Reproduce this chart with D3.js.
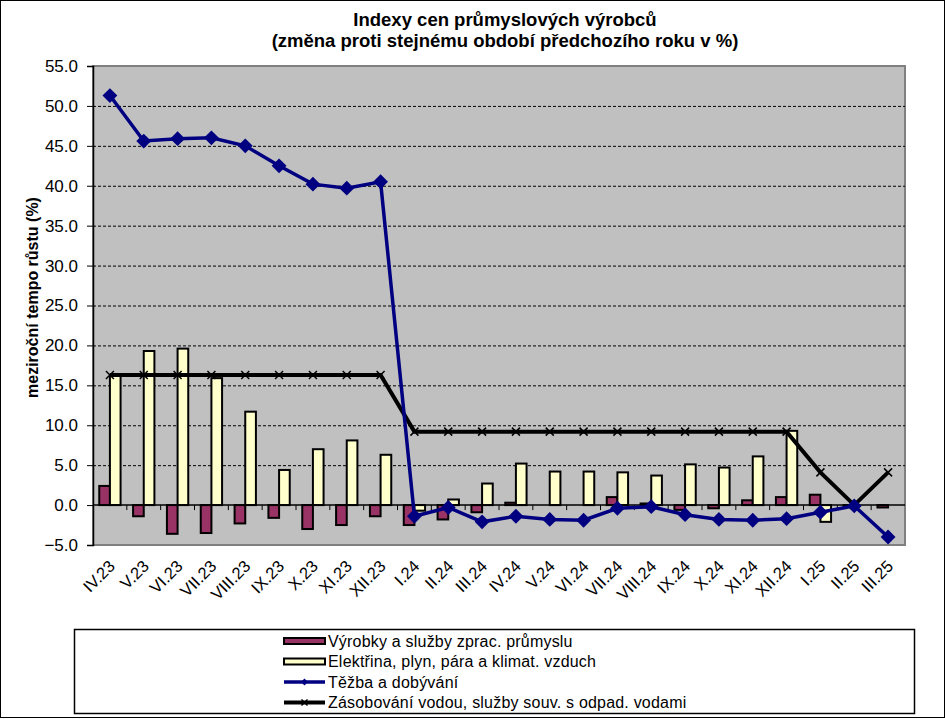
<!DOCTYPE html>
<html>
<head>
<meta charset="utf-8">
<script src="https://cdn.jsdelivr.net/npm/d3@7"></script>
<style>
    body { margin: 0; background: #fff; }
    svg { display: block; font-family: "Liberation Sans", Arial, sans-serif; }
    .grid line { stroke: #000; stroke-width: 1; stroke-dasharray: 3,2; }
</style>
</head>
<body>
<script>
// Data
const months = ['IV.23', 'V.23', 'VI.23', 'VII.23', 'VIII.23', 'IX.23', 'X.23', 'XI.23', 'XII.23',
    'I.24', 'II.24', 'III.24', 'IV.24', 'V.24', 'VI.24', 'VII.24', 'VIII.24', 'IX.24', 'X.24', 'XI.24', 'XII.24',
    'I.25', 'II.25', 'III.25'];
const vyrobky = [2.4, -1.4, -3.6, -3.5, -2.3, -1.6, -3.0, -2.5, -1.4,
    -2.5, -1.8, -0.9, 0.3, 0.0, 0.0, 1.0, 0.2, -0.6, -0.4, 0.6, 1.0,
    1.3, -0.1, -0.3];
const elektrina = [16.2, 19.3, 19.6, 15.9, 11.7, 4.4, 7.0, 8.1, 6.3,
    -0.7, 0.7, 2.7, 5.2, 4.2, 4.2, 4.1, 3.7, 5.1, 4.7, 6.1, 9.3,
    -2.1, 0.0, 0.0];
const tezba = [51.3, 45.6, 45.9, 46.0, 45.0, 42.5, 40.2, 39.7, 40.5,
    -1.4, -0.3, -2.1, -1.4, -1.8, -1.9, -0.4, -0.2, -1.2, -1.8, -1.9, -1.7,
    -0.9, -0.1, -4.0];
const zasobovani = [16.3, 16.3, 16.3, 16.3, 16.3, 16.3, 16.3, 16.3, 16.3,
    9.2, 9.2, 9.2, 9.2, 9.2, 9.2, 9.2, 9.2, 9.2, 9.2, 9.2, 9.2,
    4.1, 0.0, 4.1];
const yTicks = [-5, 0, 5, 10, 15, 20, 25, 30, 35, 40, 45, 50, 55];
const seriesNames = ['Výrobky a služby zprac. průmyslu', 'Elektřina, plyn, pára a klimat. vzduch',
    'Těžba a dobývání', 'Zásobování vodou, služby souv. s odpad. vodami'];

const W = 945, H = 719;
const plot = { left: 93, top: 66, right: 905, bottom: 545 };

const svg = d3.select("body").append("svg")
    .attr("width", W)
    .attr("height", H);

// outer border
svg.append("rect")
    .attr("x", 0.5).attr("y", 0.5)
    .attr("width", W - 1).attr("height", H - 2)
    .attr("fill", "#fff").attr("stroke", "#000");

// title
const title = svg.append("text")
    .attr("text-anchor", "middle")
    .style("font-size", "18.5px")
    .style("font-weight", "bold");
title.append("tspan").attr("x", 505).attr("y", 26).text("Indexy cen průmyslových výrobců");
title.append("tspan").attr("x", 505).attr("y", 47).text("(změna proti stejnému období předchozího roku v %)");

// scales
const x = d3.scaleBand()
    .domain(months)
    .range([plot.left, plot.right]);
const xInner = d3.scaleBand()
    .domain([0, 1])
    .range([x.bandwidth() * 0.185, x.bandwidth() * 0.815]);
const y = d3.scaleLinear()
    .domain([-5, 55])
    .range([plot.bottom, plot.top]);

// plot area
svg.append("rect")
    .attr("x", plot.left).attr("y", plot.top)
    .attr("width", plot.right - plot.left)
    .attr("height", plot.bottom - plot.top)
    .attr("fill", "#c0c0c0")
    .attr("stroke", "#808080")
    .attr("stroke-width", 2);

// gridlines
svg.append("g")
    .attr("class", "grid")
    .selectAll("line")
    .data(yTicks.filter(d => d !== 0 && d !== -5 && d !== 55))
    .enter().append("line")
    .attr("x1", plot.left).attr("x2", plot.right)
    .attr("y1", d => y(d) + 0.5).attr("y2", d => y(d) + 0.5);

// bars
const groups = svg.selectAll(".month")
    .data(months.map((m, i) => ({ month: m, values: [vyrobky[i], elektrina[i]] })))
    .enter().append("g")
    .attr("class", "month")
    .attr("transform", d => "translate(" + x(d.month) + ",0)");

const barColors = ['#993366', '#ffffcc'];
groups.selectAll("rect")
    .data(d => d.values.map((v, k) => ({ v: v, k: k })))
    .enter().append("rect")
    .attr("x", d => xInner(d.k))
    .attr("width", xInner.bandwidth())
    .attr("y", d => y(Math.max(0, d.v)))
    .attr("height", d => Math.abs(y(d.v) - y(0)))
    .attr("fill", d => barColors[d.k])
    .attr("stroke", "#000")
    .attr("stroke-width", 2);

// x axis at zero
const xg = svg.append("g")
    .attr("transform", "translate(0," + y(0) + ")");
xg.append("line")
    .attr("x1", plot.left).attr("x2", plot.right)
    .attr("stroke", "#000").attr("stroke-width", 1.5);
xg.selectAll(".xtick")
    .data(months.slice(1))
    .enter().append("line")
    .attr("x1", d => x(d)).attr("x2", d => x(d))
    .attr("y1", 0).attr("y2", 5)
    .attr("stroke", "#000");

// x labels
svg.append("g")
    .selectAll("text")
    .data(months)
    .enter().append("text")
    .attr("text-anchor", "end")
    .attr("transform", d => "translate(" + (x(d) + x.bandwidth() / 2 - 2) + "," + (plot.bottom + 14) + ") rotate(-45)")
    .attr("dy", "0.7em")
    .style("font-size", "16.5px")
    .text(d => d);

// y axis
const yAxis = d3.axisLeft(y)
    .tickValues(yTicks)
    .tickSize(6)
    .tickFormat(d3.format(".1f"));
svg.append("g")
    .attr("transform", "translate(" + plot.left + ",0)")
    .call(yAxis)
    .call(g => g.attr("font-family", null).attr("font-size", null))
    .call(g => g.select(".domain").attr("stroke", "#000").attr("stroke-width", 1.5))
    .call(g => g.selectAll(".tick text").attr("x", -15).style("font-size", "17px"));

svg.append("text")
    .attr("transform", "translate(38," + ((plot.top + plot.bottom) / 2 - 8) + ") rotate(-90)")
    .attr("text-anchor", "middle")
    .style("font-size", "16px")
    .style("font-weight", "bold")
    .text("meziroční tempo růstu (%)");

// lines
const line = d3.line()
    .x((d, i) => x(months[i]) + x.bandwidth() / 2)
    .y(d => y(d));

svg.append("path")
    .datum(zasobovani)
    .attr("fill", "none")
    .attr("stroke", "#000")
    .attr("stroke-width", 4)
    .attr("d", line);

const cross = function (s) {
    return "M" + (-s) + "," + (-s) + "L" + s + "," + s + "M" + (-s) + "," + s + "L" + s + "," + (-s);
};
svg.append("g").selectAll("path")
    .data(zasobovani)
    .enter().append("path")
    .attr("transform", (d, i) => "translate(" + (x(months[i]) + x.bandwidth() / 2) + "," + y(d) + ")")
    .attr("d", cross(4))
    .attr("stroke", "#000")
    .attr("stroke-width", 1.5);

svg.append("path")
    .datum(tezba)
    .attr("fill", "none")
    .attr("stroke", "#000080")
    .attr("stroke-width", 3.5)
    .attr("d", line);

const diamond = d3.symbol().type(d3.symbolDiamond2).size(140);
svg.append("g").selectAll("path")
    .data(tezba)
    .enter().append("path")
    .attr("transform", (d, i) => "translate(" + (x(months[i]) + x.bandwidth() / 2) + "," + y(d) + ")")
    .attr("d", diamond)
    .attr("fill", "#000080");

// legend
svg.append("rect")
    .attr("x", 74.5).attr("y", 629.5)
    .attr("width", 840).attr("height", 84)
    .attr("fill", "#fff")
    .attr("stroke", "#000")
    .attr("stroke-width", 1.5);

const legend = svg.append("g")
    .selectAll("g")
    .data(seriesNames)
    .enter().append("g")
    .attr("transform", (d, i) => "translate(284," + (641 + i * 20.5) + ")");

legend.filter((d, i) => i < 2).append("rect")
    .attr("x", 0).attr("y", -3)
    .attr("width", 41).attr("height", 6)
    .attr("fill", (d, i) => barColors[i])
    .attr("stroke", "#000")
    .attr("stroke-width", 2);

legend.filter((d, i) => i === 2).append("line")
    .attr("x1", 0).attr("x2", 41)
    .attr("stroke", "#000080").attr("stroke-width", 3.5);
legend.filter((d, i) => i === 2).append("path")
    .attr("transform", "translate(20.5,0)")
    .attr("d", d3.symbol().type(d3.symbolDiamond2).size(30))
    .attr("fill", "#000080");

legend.filter((d, i) => i === 3).append("line")
    .attr("x1", 0).attr("x2", 41)
    .attr("stroke", "#000").attr("stroke-width", 4);
legend.filter((d, i) => i === 3).append("path")
    .attr("transform", "translate(20.5,0)")
    .attr("d", cross(3))
    .attr("stroke", "#000").attr("stroke-width", 1.5);

legend.append("text")
    .attr("x", 44)
    .attr("dy", "0.36em")
    .style("font-size", "16px")
    .style("letter-spacing", "0.2px")
    .text(d => d);
</script>
</body>
</html>
